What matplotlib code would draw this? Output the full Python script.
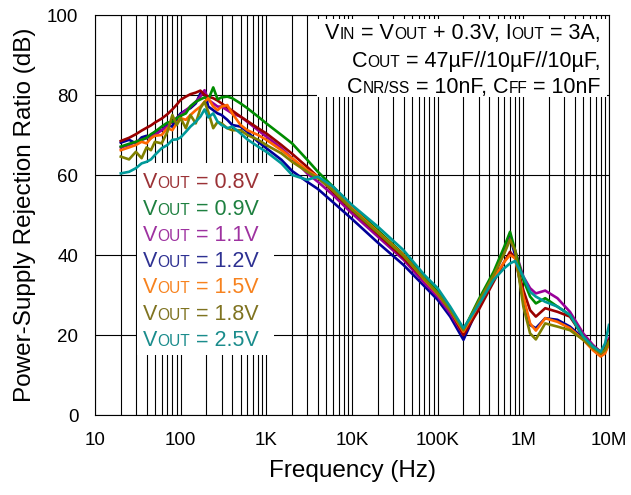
import matplotlib
matplotlib.use("Agg")
import numpy as np
import matplotlib.pyplot as plt
from matplotlib.patches import Rectangle
from matplotlib.ticker import LogLocator, FixedLocator, NullFormatter

plt.rcParams['font.family'] = ['Liberation Sans', 'DejaVu Sans']

# Frequency points (Hz)
freq = [20, 25, 30, 35, 40, 45, 50, 60, 70, 80, 90, 100, 115, 130, 150, 170, 190,
        210, 240, 270, 300, 350, 400, 500, 600, 800, 1e3, 1.5e3, 2e3, 3e3, 4e3,
        6e3, 1e4, 2e4, 4e4, 7e4, 1e5, 1.4e5, 2e5, 3e5, 4.5e5, 6e5, 7e5, 8e5, 1e6,
        1.2e6, 1.4e6, 1.8e6, 2.5e6, 3.5e6, 5e6, 6.5e6, 8e6, 9e6, 1e7]

# PSRR (dB) per output voltage
psrr_08 = [68.5, 69.3, 70.2, 71.1, 71.8, 72.4, 73.1, 74.1, 75.2, 76.4, 77.6, 78.8,
           79.6, 80.2, 80.6, 81.1, 80.0, 79.6, 79.2, 78.6, 77.9, 76.9, 76.1, 74.6,
           73.5, 71.7, 70.4, 67.5, 65.3, 62.0, 59.5, 55.8, 51.2, 45.3, 39.3, 33.8,
           30.4, 26.2, 20.0, 26.2, 33.3, 38.3, 40.8, 39.2, 31.2, 26.2, 24.6, 26.7,
           25.8, 24.6, 19.6, 17.1, 15.8, 16.7, 18.8]
psrr_09 = [67.1, 67.8, 68.3, 68.8, 69.3, 70.2, 70.8, 72.1, 73.1, 73.3, 74.2, 74.8,
           75.4, 77.2, 78.3, 78.9, 79.4, 78.8, 81.9, 78.9, 79.4, 79.6, 79.2, 77.9,
           76.7, 74.6, 72.9, 70.0, 67.9, 63.8, 60.8, 57.1, 52.2, 46.2, 40.2, 34.6,
           30.8, 26.7, 21.2, 28.8, 35.8, 42.1, 45.8, 41.2, 33.8, 29.6, 27.9, 29.2,
           27.1, 25.0, 19.6, 17.1, 15.4, 16.2, 18.3]
psrr_11 = [66.9, 67.5, 68.3, 68.8, 69.2, 69.8, 70.0, 71.2, 72.1, 73.3, 74.2, 75.0,
           76.2, 77.1, 78.3, 79.6, 81.2, 78.8, 77.9, 77.1, 77.1, 76.2, 75.4, 74.6,
           73.3, 71.2, 69.6, 66.7, 64.2, 60.4, 58.3, 55.0, 50.4, 44.6, 38.8, 33.0,
           29.6, 25.4, 20.0, 27.9, 35.0, 41.2, 44.2, 41.2, 34.6, 31.7, 30.4, 31.1,
           29.2, 25.8, 20.4, 17.5, 15.8, 16.7, 19.2]
psrr_12 = [68.1, 68.8, 67.9, 69.4, 69.8, 69.2, 70.8, 71.2, 72.5, 72.1, 74.2, 75.4,
           76.2, 76.7, 77.9, 80.4, 80.8, 77.1, 76.2, 75.4, 75.0, 73.8, 72.5, 72.1,
           70.8, 68.3, 66.7, 63.8, 61.0, 58.3, 56.5, 53.2, 49.0, 43.1, 37.5, 32.2,
           28.8, 24.6, 18.8, 27.1, 34.6, 40.8, 44.6, 40.0, 28.8, 22.5, 21.7, 24.2,
           23.8, 22.1, 19.2, 16.7, 15.0, 15.8, 17.9]
psrr_15 = [66.2, 66.9, 67.5, 68.3, 67.9, 69.2, 69.8, 70.0, 71.7, 71.2, 72.9, 74.2,
           73.8, 75.0, 76.2, 77.1, 78.3, 79.2, 77.1, 76.2, 77.1, 77.5, 75.4, 72.5,
           71.2, 70.0, 68.8, 66.2, 64.2, 61.2, 59.6, 56.2, 51.7, 45.8, 40.0, 33.8,
           30.2, 26.2, 20.8, 27.5, 34.2, 38.3, 40.0, 39.2, 29.6, 22.9, 21.1, 24.2,
           23.3, 21.7, 18.8, 16.2, 14.6, 15.4, 17.9]
psrr_18 = [64.6, 63.9, 65.8, 64.2, 66.9, 66.2, 68.3, 67.9, 70.8, 75.0, 72.5, 74.2,
           71.7, 75.0, 72.9, 76.7, 78.3, 75.8, 71.7, 73.3, 72.9, 71.7, 71.2, 71.2,
           70.0, 68.8, 67.5, 65.4, 63.3, 60.8, 59.2, 56.2, 51.4, 45.6, 39.8, 34.0,
           30.4, 26.2, 21.2, 28.3, 35.0, 40.4, 43.8, 41.2, 27.1, 20.4, 18.9, 22.9,
           22.1, 21.2, 18.8, 16.7, 15.4, 16.2, 18.3]
psrr_25 = [60.4, 60.8, 61.7, 62.9, 63.3, 63.9, 65.0, 66.7, 67.5, 68.8, 68.9, 69.4,
           70.8, 72.1, 73.3, 74.6, 76.4, 74.4, 75.4, 73.3, 72.5, 71.7, 72.1, 70.4,
           68.9, 67.1, 65.8, 62.9, 60.0, 58.8, 59.6, 57.1, 52.5, 47.1, 41.2, 35.0,
           31.7, 27.1, 21.7, 27.5, 33.8, 36.7, 37.9, 38.5, 34.6, 30.8, 29.6, 28.3,
           27.1, 25.0, 19.6, 17.1, 15.8, 17.9, 22.5]

vout_labels = ['0.8V', '0.9V', '1.1V', '1.2V', '1.5V', '1.8V', '2.5V']
series = [psrr_08, psrr_09, psrr_11, psrr_12, psrr_15, psrr_18, psrr_25]
line_colors = ['#990000', '#008c00', '#990099', '#000099', '#ff6600', '#808000', '#009999']
text_colors = ['#9b3236', '#1e8040', '#9e32a0', '#2e3192', '#f7821e', '#7f7320', '#1a8c8c']

x_ticks = [10, 100, 1e3, 1e4, 1e5, 1e6, 1e7]
x_ticklabels = ['10', '100', '1K', '10K', '100K', '1M', '10M']
y_ticks = [0, 20, 40, 60, 80, 100]

BIG = 15.5
SMALL = 11.2


def rich_text(ax, x, y, parts, color, ha='left'):
    """Draw text pieces of different sizes on one baseline (fake small caps)."""
    if ha == 'left':
        s, fs = parts[0]
        t = ax.text(x, y, s, fontsize=fs, color=color, transform=ax.transAxes,
                    ha='left', va='baseline', zorder=5)
        for s, fs in parts[1:]:
            t = ax.annotate(s, xy=(1, y), xycoords=(t, ax.transAxes), fontsize=fs,
                            color=color, ha='left', va='baseline', zorder=5)
    else:
        s, fs = parts[-1]
        t = ax.text(x, y, s, fontsize=fs, color=color, transform=ax.transAxes,
                    ha='right', va='baseline', zorder=5)
        for s, fs in reversed(parts[:-1]):
            t = ax.annotate(s, xy=(0, y), xycoords=(t, ax.transAxes), fontsize=fs,
                            color=color, ha='right', va='baseline', zorder=5)


fig = plt.figure(figsize=(6.31, 4.95), dpi=100)
ax = fig.add_axes([95 / 631, 80 / 495, 514 / 631, 400 / 495])

order = [3, 2, 0, 1, 4, 5, 6]
for i in order:
    ax.plot(freq, series[i], color=line_colors[i], lw=1.9, zorder=3)

ax.set_xscale('log')
ax.set_xlim(10, 1e7)
ax.set_ylim(0, 100)
ax.xaxis.set_major_locator(FixedLocator(x_ticks))
ax.set_xticklabels(x_ticklabels)
ax.xaxis.set_minor_locator(LogLocator(base=10, subs=np.arange(2, 10), numticks=50))
ax.xaxis.set_minor_formatter(NullFormatter())
ax.set_yticks(y_ticks)

ax.set_axisbelow(True)
ax.grid(True, which='major', axis='both', color='black', lw=0.8)
ax.grid(True, which='minor', axis='x', color='black', lw=0.8)
ax.tick_params(which='both', length=0, labelsize=13.5, colors='black')
ax.tick_params(axis='x', pad=12)
ax.tick_params(axis='y', pad=12)
for sp in ax.spines.values():
    sp.set_color('black')
    sp.set_linewidth(0.8)

ax.set_xlabel('Frequency (Hz)', fontsize=17.5, labelpad=8)
ax.set_ylabel('Power-Supply Rejection Ratio (dB)', fontsize=17.5, labelpad=8)

# white boxes behind the annotation and the legend
ax.add_patch(Rectangle((0.432, 0.795), 0.564, 0.195, transform=ax.transAxes,
                       facecolor='white', edgecolor='none', zorder=1))
ax.add_patch(Rectangle((0.082, 0.15), 0.266, 0.48, transform=ax.transAxes,
                       facecolor='white', edgecolor='none', zorder=1))

cond_lines = [
    [('V', BIG), ('IN', SMALL), (' = V', BIG), ('OUT', SMALL), (' + 0.3V, I', BIG),
     ('OUT', SMALL), (' = 3A,', BIG)],
    [('C', BIG), ('OUT', SMALL), (' = 47\u00b5F//10\u00b5F//10\u00b5F,', BIG)],
    [('C', BIG), ('NR/SS', SMALL), (' = 10nF, C', BIG), ('FF', SMALL), (' = 10nF', BIG)],
]
cond_y = [0.939, 0.871, 0.806]
for parts, yy in zip(cond_lines, cond_y):
    rich_text(ax, 0.984, yy, parts, 'black', ha='right')

for k, (lab, col) in enumerate(zip(vout_labels, text_colors)):
    yy = 0.567 - k * 0.0658
    rich_text(ax, 0.093, yy, [('V', BIG), ('OUT', SMALL), (' = ' + lab, BIG)], col)

fig.savefig('out.png', dpi=100)
